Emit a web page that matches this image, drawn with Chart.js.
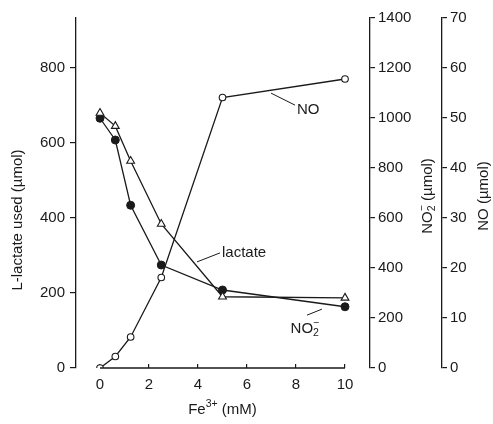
<!DOCTYPE html>
<html>
<head>
<meta charset="utf-8">
<script src="https://cdn.jsdelivr.net/npm/chart.js@4.4.1/dist/chart.umd.min.js"></script>
<style>
  html, body { margin: 0; padding: 0; background: #fff; }
  #wrap { width: 493px; height: 424px; }
</style>
</head>
<body>
<div id="wrap"><canvas id="chart"></canvas></div>
<script>
// values
const ironMM = [0, 0.625, 1.25, 2.5, 5, 10];
const lactateUsed = [680, 645, 552, 384, 190, 187];
const nitriteUmol = [999, 912, 651, 412, 312, 245];
const noUmol = [0, 2.3, 6.2, 18.1, 54.1, 57.8];

const xTicks = [0, 2, 4, 6, 8, 10];
const lactateTicks = [0, 200, 400, 600, 800];
const nitriteTicks = [0, 200, 400, 600, 800, 1000, 1200, 1400];
const noTicks = [0, 10, 20, 30, 40, 50, 60, 70];

const FONT = "'Liberation Sans Narrow', 'Liberation Sans', sans-serif";
const TITLE_FONT = "'Liberation Sans', sans-serif";
const INK = '#1a1a1a';

function pts(xs, ys) {
    return xs.map((x, i) => ({x: x, y: ys[i]}));
}

function setTicks(list) {
    return function (scale) {
        scale.ticks = list.map(v => ({value: v}));
    };
}

function partFont(p, size) {
    return (p.sub || p.sup ? size * 0.7 : size) + 'px ' + TITLE_FONT;
}

// width of a run of text with sub/superscripts
function richWidth(ctx, parts, size) {
    let w = 0, last = 0;
    parts.forEach(p => {
        ctx.font = partFont(p, size);
        p.w = ctx.measureText(p.t).width;
        if (p.over) {
            w += Math.max(0, p.w - last);
        } else {
            w += p.w;
        }
        last = p.w;
    });
    return w;
}

// drawn centred at 0,0
function richText(ctx, parts, size) {
    const w = richWidth(ctx, parts, size);
    let x = -w / 2, prevX = x, prevW = 0;
    parts.forEach(p => {
        ctx.font = partFont(p, size);
        let dy = 0;
        if (p.sub) dy = size * 0.3;
        if (p.sup) dy = -size * 0.4;
        if (p.over) {
            ctx.fillText(p.t, prevX, dy);
            x = prevX + Math.max(prevW, p.w);
        } else {
            ctx.fillText(p.t, x, dy);
            prevX = x;
            prevW = p.w;
            x += p.w;
        }
    });
}

const nitriteText = [{t: 'NO'}, {t: '2', sub: true}, {t: '\u2212', sup: true, over: true}];

const labels = [
    {text: [{t: 'NO'}], line: [6.98, 733, 7.96, 701], at: [8.04, 688]},
    {text: [{t: 'lactate'}], line: [3.96, 283, 4.90, 307], at: [4.98, 307]},
    {text: nitriteText, line: [9.06, 157, 8.45, 141], at: [7.78, 104]}
];

const extras = {
    id: 'extras',
    afterDraw(chart) {
        const ctx = chart.ctx;
        const x = chart.scales.x, y = chart.scales.y;
        ctx.save();
        // x axis line only over the data range
        ctx.strokeStyle = INK;
        ctx.lineWidth = 1.3;
        ctx.beginPath();
        ctx.moveTo(x.getPixelForValue(0), y.getPixelForValue(0));
        ctx.lineTo(x.getPixelForValue(10), y.getPixelForValue(0));
        ctx.stroke();

        ctx.fillStyle = INK;
        ctx.textBaseline = 'middle';
        ctx.textAlign = 'left';

        // curve labels with pointer lines
        ctx.lineWidth = 1;
        labels.forEach(l => {
            ctx.beginPath();
            ctx.moveTo(x.getPixelForValue(l.line[0]), y.getPixelForValue(l.line[1]));
            ctx.lineTo(x.getPixelForValue(l.line[2]), y.getPixelForValue(l.line[3]));
            ctx.stroke();
            const w = richWidth(ctx, l.text, 15);
            ctx.save();
            ctx.translate(x.getPixelForValue(l.at[0]) + w / 2, y.getPixelForValue(l.at[1]));
            richText(ctx, l.text, 15);
            ctx.restore();
        });

        // axis titles
        ctx.save();
        ctx.translate(18, 220);
        ctx.rotate(-Math.PI / 2);
        richText(ctx, [{t: 'L-lactate used (\u00b5mol)'}], 15);
        ctx.restore();

        ctx.save();
        ctx.translate(428, 196);
        ctx.rotate(-Math.PI / 2);
        richText(ctx, nitriteText.concat([{t: ' (\u00b5mol)'}]), 15);
        ctx.restore();

        ctx.save();
        ctx.translate(484, 196);
        ctx.rotate(-Math.PI / 2);
        richText(ctx, [{t: 'NO (\u00b5mol)'}], 15);
        ctx.restore();

        ctx.save();
        ctx.translate((x.getPixelForValue(0) + x.getPixelForValue(10)) / 2, 410);
        richText(ctx, [{t: 'Fe'}, {t: '3+', sup: true}, {t: ' (mM)'}], 15);
        ctx.restore();

        ctx.restore();
    }
};

const tickFont = {family: FONT, size: 15};
const plain = v => String(v);

new Chart(document.getElementById('chart'), {
    type: 'line',
    data: {
        datasets: [{
            label: 'L-lactate',
            data: pts(ironMM, lactateUsed),
            yAxisID: 'y',
            borderColor: INK,
            borderWidth: 1.3,
            pointStyle: 'triangle',
            pointRadius: 4.5,
            pointBackgroundColor: '#fff',
            pointBorderColor: INK,
            pointBorderWidth: 1.1
        }, {
            label: 'NO2-',
            data: pts(ironMM, nitriteUmol),
            yAxisID: 'yNitrite',
            borderColor: INK,
            borderWidth: 1.3,
            pointStyle: 'circle',
            pointRadius: 4,
            pointBackgroundColor: INK,
            pointBorderColor: INK,
            pointBorderWidth: 1
        }, {
            label: 'NO',
            data: pts(ironMM, noUmol),
            yAxisID: 'yNo',
            borderColor: INK,
            borderWidth: 1.3,
            pointStyle: 'circle',
            pointRadius: 3.3,
            pointBackgroundColor: '#fff',
            pointBorderColor: INK,
            pointBorderWidth: 1.1
        }]
    },
    options: {
        responsive: true,
        maintainAspectRatio: false,
        animation: false,
        layout: {padding: {top: 18, right: 0, bottom: 0, left: 0}},
        plugins: {
            legend: {display: false},
            tooltip: {enabled: false}
        },
        scales: {
            x: {
                type: 'linear',
                position: 'bottom',
                min: -0.98,
                max: 11.02,
                border: {display: false},
                grid: {drawOnChartArea: false, tickLength: -4, color: INK, lineWidth: 1.2},
                ticks: {font: tickFont, color: INK, padding: 12, maxRotation: 0, callback: plain},
                afterBuildTicks: setTicks(xTicks),
                afterFit(scale) { scale.height = 56; }
            },
            y: {
                position: 'left',
                min: 0,
                max: 1400 * 2 / 3,
                border: {color: INK, width: 1.3},
                grid: {drawOnChartArea: false, tickLength: 6, color: INK, lineWidth: 1.2},
                ticks: {font: tickFont, color: INK, padding: 5, callback: plain},
                afterBuildTicks: setTicks(lactateTicks),
                afterFit(scale) { scale.width = 76; }
            },
            yNitrite: {
                position: 'right',
                min: 0,
                max: 1400,
                border: {color: INK, width: 1.3},
                grid: {drawOnChartArea: false, tickLength: 5, color: INK, lineWidth: 1.2},
                ticks: {font: tickFont, color: INK, padding: 3, callback: plain},
                afterBuildTicks: setTicks(nitriteTicks),
                afterFit(scale) { scale.width = 72; }
            },
            yNo: {
                position: 'right',
                min: 0,
                max: 70,
                border: {color: INK, width: 1.3},
                grid: {drawOnChartArea: false, tickLength: 5, color: INK, lineWidth: 1.2},
                ticks: {font: tickFont, color: INK, padding: 3, callback: plain},
                afterBuildTicks: setTicks(noTicks),
                afterFit(scale) { scale.width = 51; }
            }
        }
    },
    plugins: [extras]
});
</script>
</body>
</html>
